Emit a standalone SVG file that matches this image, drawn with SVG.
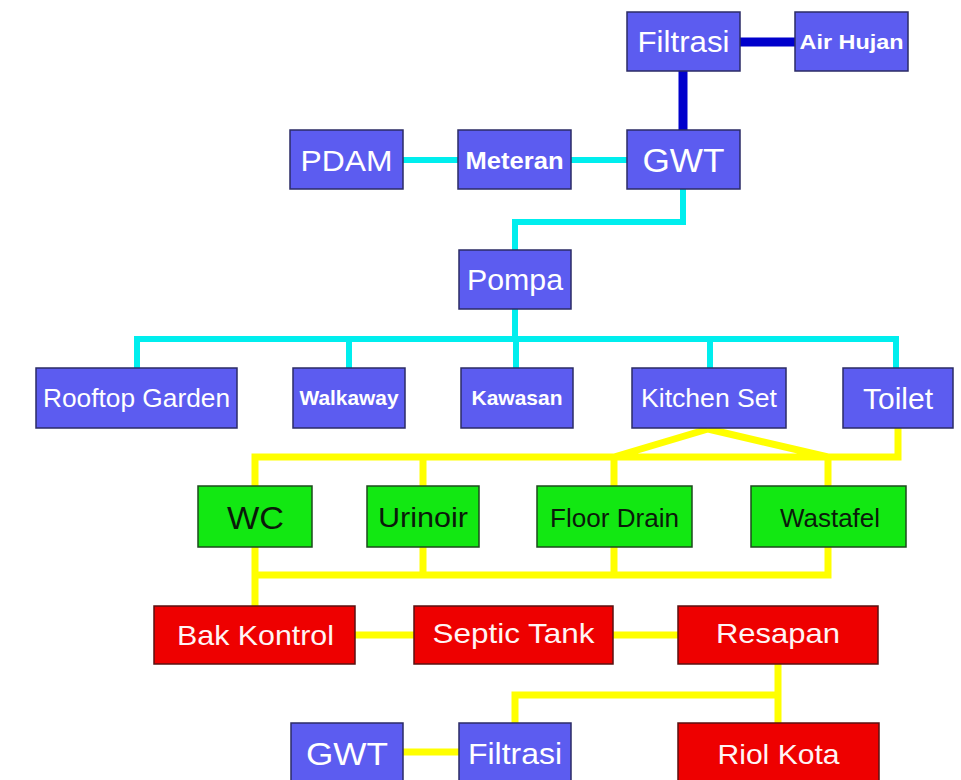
<svg xmlns="http://www.w3.org/2000/svg" width="961" height="780" viewBox="0 0 961 780">
<style>
.b rect{fill:#5c5cf0;stroke:#2b2b66;stroke-width:1.5}
.g rect{fill:#12e812;stroke:#1c4a1c;stroke-width:1.5}
.r rect{fill:#ee0000;stroke:#5a1010;stroke-width:1.5}
text{font-family:"Liberation Sans",Arial,sans-serif;text-anchor:middle}
.b text{fill:#ffffff}
.r text{fill:#fff4f4}
.g text{fill:#0a1a0a}
.bd{font-weight:bold}
.dk{stroke:#0000cc;stroke-width:9;fill:none}
.cy{stroke:#00eeee;stroke-width:6;fill:none}
.ye{stroke:#ffff00;stroke-width:7;fill:none}
</style>
<rect width="961" height="780" fill="#ffffff"/>
<g id="connectors">
  <path class="dk" d="M740,42H795M683,71V130"/>
  <path class="cy" d="M403,160H458M571,160H627M683,189V222H515V250M515,309V339M137,339H896M137,336V368M349,339V368M516,339V368M710,339V368M896,336V368"/>
  <path class="ye" d="M898,428V457H255V486M423,457V486M614,457V486M828,457V486M708,429L614,457M708,429L828,457"/>
  <path class="ye" d="M255,547V606M423,547V575M614,547V575M828,547V575H255"/>
  <path class="ye" d="M355,635H414M613,635H678M778,664V723M778,695H515V723M403,752H459"/>
</g>
<g id="filtrasi-top" class="b"><rect x="627" y="12" width="113" height="59"/><text x="683.5" y="52" font-size="29" textLength="92" lengthAdjust="spacingAndGlyphs">Filtrasi</text></g>
<g id="air-hujan" class="b"><rect x="795" y="12" width="113" height="59"/><text x="851.5" y="49" font-size="21" class="bd" textLength="104" lengthAdjust="spacingAndGlyphs">Air Hujan</text></g>
<g id="pdam" class="b"><rect x="290" y="130" width="113" height="59"/><text x="346.5" y="171" font-size="29" textLength="92" lengthAdjust="spacingAndGlyphs">PDAM</text></g>
<g id="meteran" class="b"><rect x="458" y="130" width="113" height="59"/><text x="514.5" y="169" font-size="24" class="bd" textLength="98" lengthAdjust="spacingAndGlyphs">Meteran</text></g>
<g id="gwt-top" class="b"><rect x="627" y="130" width="113" height="59"/><text x="683.5" y="172" font-size="33" textLength="82" lengthAdjust="spacingAndGlyphs">GWT</text></g>
<g id="pompa" class="b"><rect x="459" y="250" width="112" height="59"/><text x="515" y="290" font-size="29" textLength="96" lengthAdjust="spacingAndGlyphs">Pompa</text></g>
<g id="rooftop-garden" class="b"><rect x="36" y="368" width="201" height="60"/><text x="136.5" y="407" font-size="26" textLength="187" lengthAdjust="spacingAndGlyphs">Rooftop Garden</text></g>
<g id="walkaway" class="b"><rect x="293" y="368" width="112" height="60"/><text x="349" y="405" font-size="21" class="bd" textLength="99" lengthAdjust="spacingAndGlyphs">Walkaway</text></g>
<g id="kawasan" class="b"><rect x="461" y="368" width="112" height="60"/><text x="517" y="405" font-size="21" class="bd" textLength="91" lengthAdjust="spacingAndGlyphs">Kawasan</text></g>
<g id="kitchen-set" class="b"><rect x="632" y="368" width="154" height="60"/><text x="709" y="407" font-size="25" textLength="136" lengthAdjust="spacingAndGlyphs">Kitchen Set</text></g>
<g id="toilet" class="b"><rect x="843" y="368" width="110" height="60"/><text x="898" y="409" font-size="29" textLength="70" lengthAdjust="spacingAndGlyphs">Toilet</text></g>
<g id="wc" class="g"><rect x="198" y="486" width="114" height="61"/><text x="255.5" y="529" font-size="32" textLength="57" lengthAdjust="spacingAndGlyphs">WC</text></g>
<g id="urinoir" class="g"><rect x="367" y="486" width="112" height="61"/><text x="423" y="527" font-size="27" textLength="90" lengthAdjust="spacingAndGlyphs">Urinoir</text></g>
<g id="floor-drain" class="g"><rect x="537" y="486" width="155" height="61"/><text x="614.5" y="527" font-size="25" textLength="129" lengthAdjust="spacingAndGlyphs">Floor Drain</text></g>
<g id="wastafel" class="g"><rect x="751" y="486" width="155" height="61"/><text x="830" y="527" font-size="25" textLength="100" lengthAdjust="spacingAndGlyphs">Wastafel</text></g>
<g id="bak-kontrol" class="r"><rect x="154" y="606" width="201" height="58"/><text x="255.5" y="645" font-size="28" textLength="157" lengthAdjust="spacingAndGlyphs">Bak Kontrol</text></g>
<g id="septic-tank" class="r"><rect x="414" y="606" width="199" height="58"/><text x="513.5" y="643" font-size="28" textLength="162" lengthAdjust="spacingAndGlyphs">Septic Tank</text></g>
<g id="resapan" class="r"><rect x="678" y="606" width="200" height="58"/><text x="778" y="643" font-size="28" textLength="124" lengthAdjust="spacingAndGlyphs">Resapan</text></g>
<g id="gwt-bottom" class="b"><rect x="291" y="723" width="112" height="60"/><text x="347" y="765" font-size="32" textLength="82" lengthAdjust="spacingAndGlyphs">GWT</text></g>
<g id="filtrasi-bottom" class="b"><rect x="459" y="723" width="112" height="60"/><text x="515" y="764" font-size="29" textLength="94" lengthAdjust="spacingAndGlyphs">Filtrasi</text></g>
<g id="riol-kota" class="r"><rect x="678" y="723" width="201" height="60"/><text x="778.5" y="764" font-size="28" textLength="122" lengthAdjust="spacingAndGlyphs">Riol Kota</text></g>
</svg>
